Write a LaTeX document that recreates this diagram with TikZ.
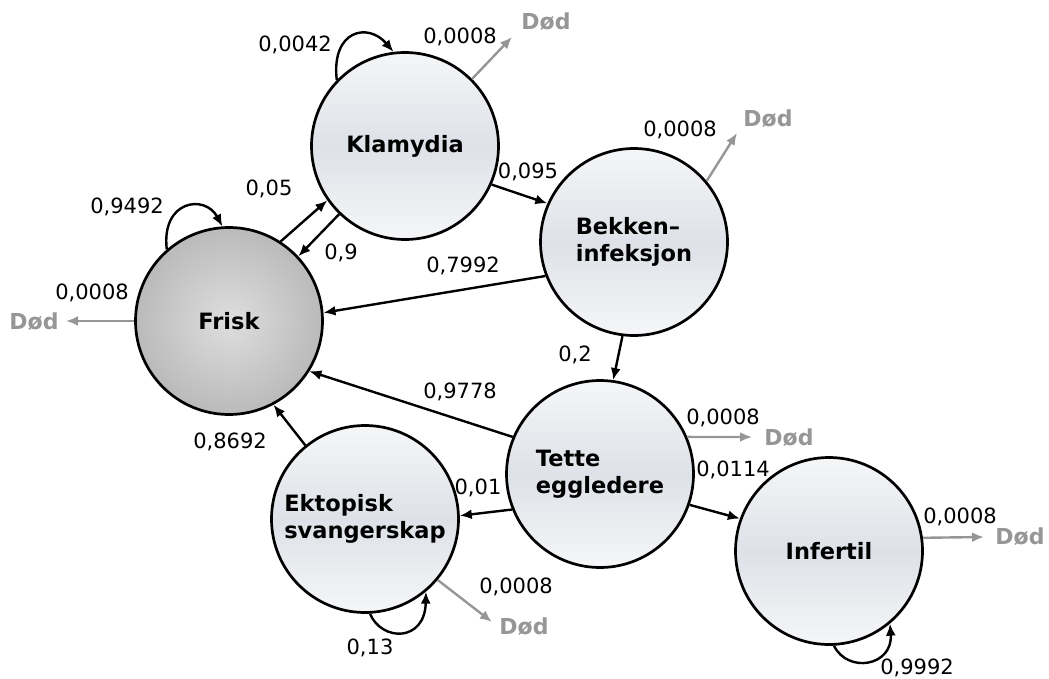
\documentclass[tikz,border=0pt]{standalone}
\usepackage{fontspec}
\setmainfont{DejaVu Sans}
\usetikzlibrary{arrows.meta}
\definecolor{dodgray}{RGB}{150,150,150}
\definecolor{lighttop}{RGB}{245,246,248}
\definecolor{lightmid}{RGB}{222,225,231}
\definecolor{friskin}{RGB}{222,222,222}
\definecolor{friskout}{RGB}{186,186,186}
\begin{document}
\begin{tikzpicture}[x=1pt,y=-1pt,
  state/.style={circle,draw=black,line width=2.7pt,minimum size=187pt,inner sep=0pt,
    font=\fontsize{22.5}{27}\selectfont\bfseries,align=left,
    top color=lighttop,bottom color=lighttop,middle color=lightmid},
  friskstate/.style={state,inner color=friskin,outer color=friskout},
  arr/.style={draw=black,line width=2.4pt,-{Latex[length=12pt,width=10pt]}},
  garr/.style={draw=dodgray,line width=2.4pt,-{Latex[length=12pt,width=10pt]}},
  lbl/.style={font=\fontsize{21}{25}\selectfont,inner sep=1pt},
  dod/.style={font=\fontsize{22}{26}\selectfont\bfseries,text=dodgray,inner sep=1pt}]
\useasboundingbox (0,0) rectangle (1049,679);
% states
\node[friskstate] (fr) at (229,321) {Frisk};
\node[state] (kl) at (405,146) {Klamydia};
\node[state] (bk) at (634,242) {Bekken–\\infeksjon};
\node[state] (te) at (600,474) {Tette\\eggledere};
\node[state] (ek) at (365,519) {Ektopisk\\svangerskap};
\node[state] (in) at (829,551) {Infertil};
% free ends of death arrows
\coordinate (dkl) at (512,37);
\coordinate (dbk) at (737,133);
\coordinate (dfr) at (66,321);
\coordinate (dte) at (752,437);
\coordinate (din) at (984,537);
\coordinate (dek) at (492,622);
% death labels
\node[dod] (tkl) at (546,22) {Død};
\node[dod] (tbk) at (768,119) {Død};
\node[dod] (tfr) at (34,322) {Død};
\node[dod] (tte) at (789,438) {Død};
\node[dod] (tin) at (1020,537) {Død};
\node[dod] (tek) at (524,627) {Død};
% death arrows
\draw[garr] (kl.45) -- (dkl);
\draw[garr] (bk.40) -- (dbk);
\draw[garr] (fr.180) -- (dfr);
\draw[garr] (te.23) -- (dte);
\draw[garr] (in.8) -- (din);
\draw[garr] (ek.-40) -- (dek);
% transitions
\draw[arr] (fr.57) -- (kl.215);
\draw[arr] (kl.226) -- (fr.43);
\draw[arr] (kl.-24) -- (bk.156);
\draw[arr] (bk.201) -- (fr.5);
\draw[arr] (bk.-97) -- (te.82);
\draw[arr] (te.157) -- (fr.-32);
\draw[arr] (ek.129) -- (fr.-62);
\draw[arr] (te.202) -- (ek.2);
\draw[arr] (te.-19) -- (in.160);
% self loops
\draw[arr] (fr.131) .. controls (161,200) and (205,194) .. (fr.94);
\draw[arr] (kl.136) .. controls (331,30) and (368,22) .. (kl.97);
\draw[arr] (ek.-87) .. controls (382,642) and (425,642) .. (ek.-50);
\draw[arr] (in.-87) .. controls (848,674) and (893,666) .. (in.-50);
% labels
\node[lbl] (l1) at (295,45) {0,0042};
\node[lbl] (l2) at (460,37) {0,0008};
\node[lbl] (l3) at (528,172) {0,095};
\node[lbl] (l4) at (269,189) {0,05};
\node[lbl] (l5) at (341,253) {0,9};
\node[lbl] (l6) at (463,266) {0,7992};
\node[lbl] (l7) at (127,207) {0,9492};
\node[lbl] (l8) at (92,293) {0,0008};
\node[lbl] (l9) at (230,442) {0,8692};
\node[lbl] (l10) at (680,130) {0,0008};
\node[lbl] (l11) at (575,355) {0,2};
\node[lbl] (l12) at (460,392) {0,9778};
\node[lbl] (l13) at (478,488) {0,01};
\node[lbl] (l14) at (516,587) {0,0008};
\node[lbl] (l15) at (370,648) {0,13};
\node[lbl] (l16) at (723,418) {0,0008};
\node[lbl] (l17) at (733,470) {0,0114};
\node[lbl] (l18) at (960,517) {0,0008};
\node[lbl] (l19) at (917,668) {0,9992};
\end{tikzpicture}
\end{document}
